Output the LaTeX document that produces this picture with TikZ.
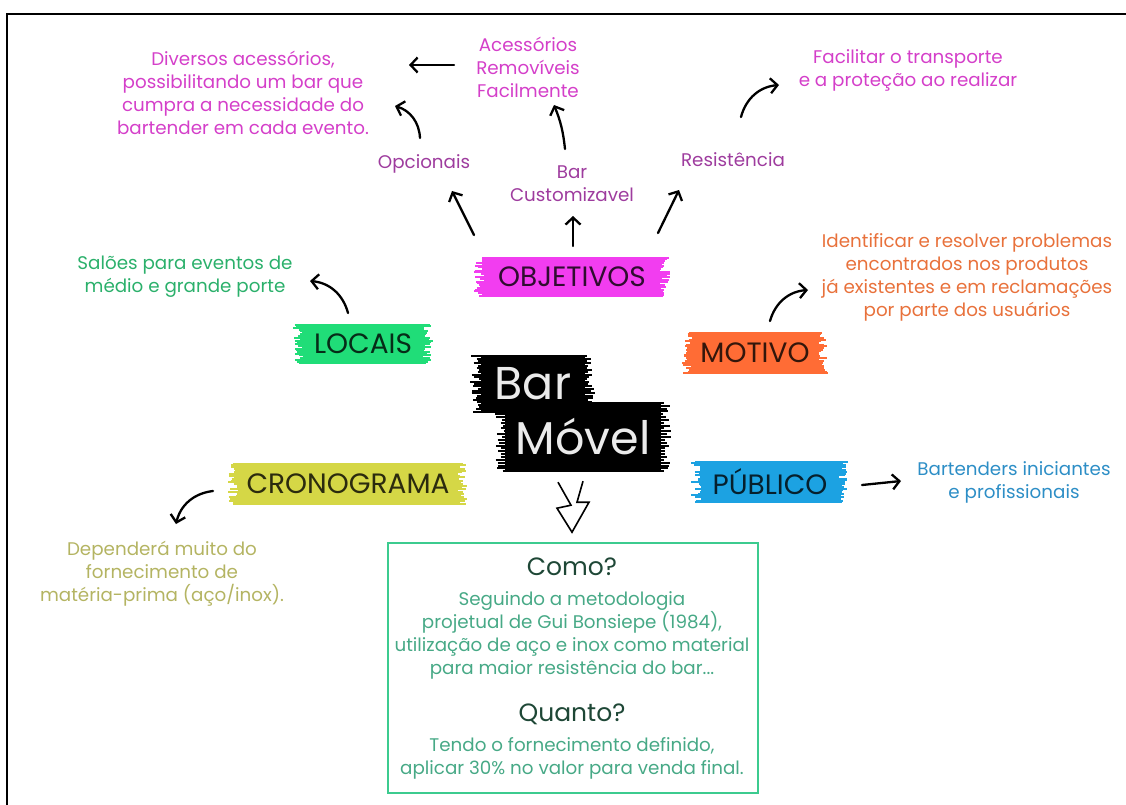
\documentclass[tikz,border=0pt]{standalone}
\usepackage{fontspec}
\setmainfont{Poppins}
\usetikzlibrary{positioning,arrows.meta,calc,backgrounds}

\definecolor{pinktxt}{HTML}{D43FC9}
\definecolor{purptxt}{HTML}{9E3C9E}
\definecolor{greentxt}{HTML}{2BB06B}
\definecolor{orangetxt}{HTML}{E8713B}
\definecolor{bluetxt}{HTML}{2D8EC6}
\definecolor{olivetxt}{HTML}{B4B462}
\definecolor{boxtxt}{HTML}{47A986}
\definecolor{boxhead}{HTML}{1E4736}
\definecolor{boxline}{HTML}{3CCB8F}
\definecolor{objbr}{HTML}{F23DF0}
\definecolor{locbr}{HTML}{20DD78}
\definecolor{motbr}{HTML}{FF6C35}
\definecolor{crobr}{HTML}{D5D746}
\definecolor{pubbr}{HTML}{1CA2E2}

% ragged paint stroke behind a node
\newcommand{\brush}[2]{%
  \fill[#2] (#1.south west) rectangle (#1.north east);
  \foreach \k in {0,...,24}{%
    \pgfmathsetmacro{\fy}{\k/24}
    \pgfmathsetmacro{\el}{1+10*rnd}
    \pgfmathsetmacro{\er}{1+10*rnd}
    \draw[#2, line width=2pt] ($(#1.south west)!\fy!(#1.north west)+(-\el,0)$) -- ($(#1.south east)!\fy!(#1.north east)+(\er,0)$);
  }%
}

\begin{document}
\begin{tikzpicture}[
  x=1pt, y=-1pt,
  txt/.style={align=center, inner sep=0pt, font=\fontsize{18.3}{23}\selectfont},
  tag/.style={inner sep=0pt, font=\fontsize{28}{30}\selectfont},
  head/.style={inner sep=0pt, font=\fontsize{25}{30}\selectfont, text=boxhead},
  arr/.style={-{Straight Barb[length=7pt,width=15pt]}, line width=2.3pt, line cap=round, line join=round},
]
\pgfmathsetseed{11}
\useasboundingbox (0,0) rectangle (1126,805);
\draw[line width=2pt] (7,805) -- (7,14) -- (1126,14);

% centre
\node[minimum width=104pt, minimum height=55pt, inner sep=0pt, text=black!8,
  font=\fontsize{46}{46}\selectfont] (bar) at (533,384) {Bar};
\node[minimum width=156pt, minimum height=68pt, inner sep=0pt, text=black!8,
  font=\fontsize{46}{46}\selectfont] (movel) at (583,437) {Móvel};

% topics
\node[tag, minimum width=174pt, minimum height=38pt, text=black!80!objbr] (obj) at (572,277) {OBJETIVOS};
\node[tag, minimum width=118pt, minimum height=38pt, text=black!80!locbr] (loc) at (363,344) {LOCAIS};
\node[tag, minimum width=124pt, minimum height=40pt, text=black!80!motbr] (mot) at (755,353) {MOTIVO};
\node[tag, minimum width=218pt, minimum height=40pt, text=black!80!crobr] (cro) at (348,484) {CRONOGRAMA};
\node[tag, minimum width=136pt, minimum height=40pt, text=black!80!pubbr] (pub) at (770,482) {PÚBLICO};

\begin{scope}[on background layer]
\brush{bar}{black}
\brush{movel}{black}
\brush{obj}{objbr}
\brush{loc}{locbr}
\brush{mot}{motbr}
\brush{cro}{crobr}
\brush{pub}{pubbr}
\end{scope}

% objetivos branch
\node[txt, text=purptxt] (opc) at (424,164) {Opcionais};
\node[txt, text=purptxt] (cust) at (572,184) {Bar\\Customizavel};
\node[txt, text=purptxt] (res) at (733,160) {Resistência};
\node[txt, text=pinktxt] (divers) at (243,93) {Diversos acessórios,\\possibilitando um bar que\\cumpra a necessidade do\\bartender em cada evento.};
\node[txt, text=pinktxt] (acess) at (528,67) {Acessórios\\Removíveis\\Facilmente};
\node[txt, text=pinktxt] (facil) at (908,70) {Facilitar o transporte\\e a proteção ao realizar};

% other leaves
\node[txt, text=greentxt] (sal) at (185,277) {Salões para eventos de\\médio e grande porte};
\node[txt, text=orangetxt] (ident) at (967,277) {Identificar e resolver problemas\\encontrados nos produtos\\já existentes e em reclamações\\por parte dos usuários};
\node[txt, text=olivetxt] (dep) at (162,574) {Dependerá muito do\\fornecimento de\\matéria-prima (aço/inox).};
\node[txt, text=bluetxt] (bart) at (1014,482) {Bartenders iniciantes\\e profissionais};

% como / quanto box
\node[draw=boxline, line width=1.6pt, minimum width=370pt, minimum height=250pt] (box) at (573,668) {};
\node[head] (como) at (572,567) {Como?};
\node[txt, text=boxtxt] (comotxt) at (572,635) {Seguindo a metodologia\\projetual de Gui Bonsiepe (1984),\\utilização de aço e inox como material\\para maior resistência do bar...};
\node[head] (quanto) at (572,714) {Quanto?};
\node[txt, text=boxtxt] (quantotxt) at (572,758) {Tendo o fornecimento definido,\\aplicar 30\% no valor para venda final.};

% arrows
\draw[arr] ([shift={(-74,-2)}]acess.center) -- ([shift={(166,-28)}]divers.center);
\draw[arr] ([shift={(-4,-26)}]opc.center) to[bend right=35] ([shift={(152,13)}]divers.center);
\draw[arr] ([shift={(-7,-35)}]cust.center) to[bend right=8] ([shift={(26,38)}]acess.center);
\draw[arr] ([shift={(8,-43)}]res.center) to[bend left=35] ([shift={(-129,15)}]facil.center);
\draw[arr] ([shift={(-98,-42)}]obj.center) -- ([shift={(28,27)}]opc.center);
\draw[arr] ([shift={(1,-31)}]obj.center) -- ([shift={(1,32)}]cust.center);
\draw[arr] ([shift={(86,-44)}]obj.center) -- ([shift={(-54,30)}]res.center);
\draw[arr] ([shift={(-15,-31)}]loc.center) to[bend right=35] ([shift={(125,4)}]sal.center);
\draw[arr] ([shift={(15,-32)}]mot.center) to[bend left=35] ([shift={(-159,13)}]ident.center);
\draw[arr] ([shift={(-135,7)}]cro.center) to[bend right=35] ([shift={(14,-50)}]dep.center);
\draw[arr] ([shift={(92,3)}]pub.center) -- ([shift={(-113,-1)}]bart.center);

% bolt from centre to box
\draw[line width=1.6pt, line join=miter] ([shift={(-25,11)}]movel.south) -- ++(13,23) -- ++(-14,3) -- ++(15,24) -- ++(17,-30) -- ++(-12,0) -- ++(6,-21);
\end{tikzpicture}
\end{document}
